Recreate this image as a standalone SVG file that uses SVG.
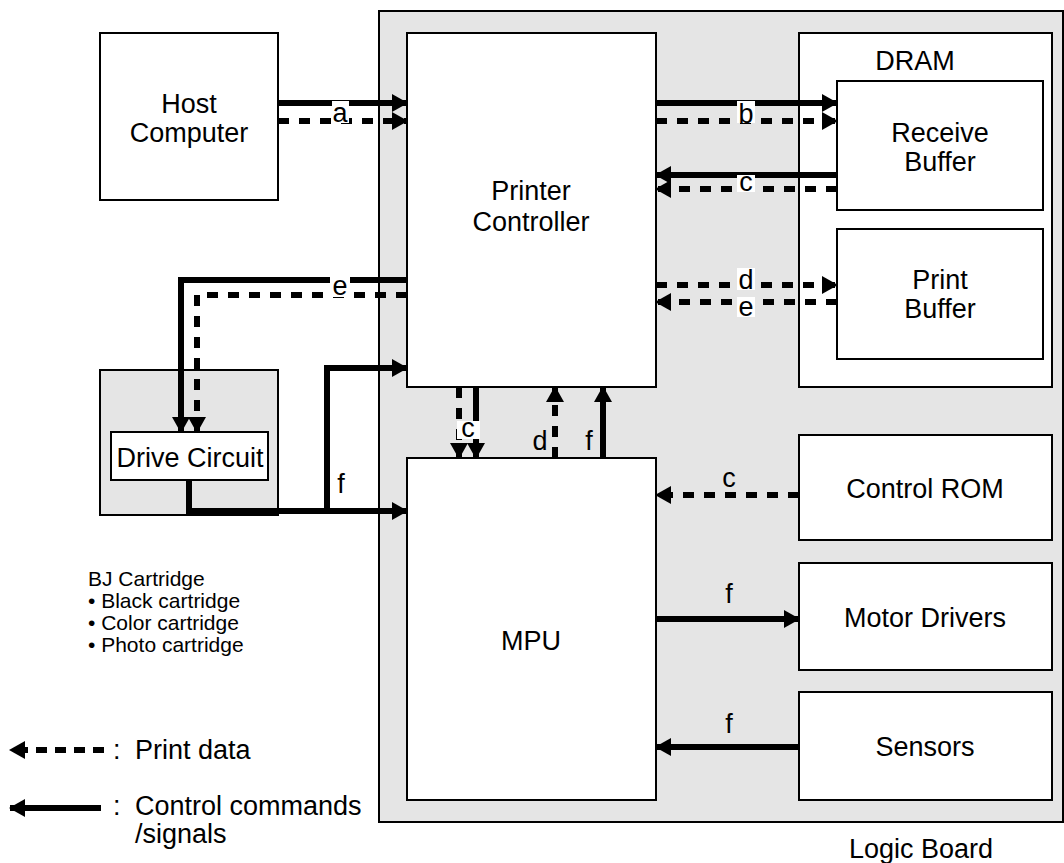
<svg xmlns="http://www.w3.org/2000/svg" width="1064" height="863" viewBox="0 0 1064 863">
<style>
text{font-family:"Liberation Sans",Arial,sans-serif;fill:#000}
.t{font-size:27px;text-anchor:middle}
.s{font-size:21px}
.box{fill:#fff;stroke:#000;stroke-width:2}
.grey{fill:#e5e5e5;stroke:#000;stroke-width:2}
.sol{fill:none;stroke:#000;stroke-width:6}
.dash{fill:none;stroke:#000;stroke-width:6;stroke-dasharray:11 10}
.lbl{font-size:27px;text-anchor:middle}
.bg{fill:#fff}
</style>
<defs>
<marker id="ah" markerUnits="userSpaceOnUse" markerWidth="16" markerHeight="18" refX="15" refY="9" orient="auto">
<path d="M0,0 L16,9 L0,18 Z" fill="#000"/>
</marker>
</defs>
<rect width="1064" height="863" fill="#fff"/>
<g id="logic-board">
<rect class="grey" x="379" y="11" width="684" height="811"/>
<text class="t" x="921" y="858">Logic Board</text>
</g>
<g id="host">
<rect class="box" x="100" y="33" width="178" height="167"/>
<text class="t" x="189" y="113">Host</text>
<text class="t" x="189" y="142">Computer</text>
</g>
<g id="printer-controller">
<rect class="box" x="407" y="33" width="249" height="354"/>
<text class="t" x="531" y="200">Printer</text>
<text class="t" x="531" y="231">Controller</text>
</g>
<g id="dram">
<rect class="box" x="799" y="33" width="253" height="354"/>
<text class="t" x="915" y="70">DRAM</text>
</g>
<g id="receive-buffer">
<rect class="box" x="837" y="81" width="206" height="129"/>
<text class="t" x="940" y="142">Receive</text>
<text class="t" x="940" y="171">Buffer</text>
</g>
<g id="print-buffer">
<rect class="box" x="837" y="229" width="206" height="130"/>
<text class="t" x="940" y="289">Print</text>
<text class="t" x="940" y="318">Buffer</text>
</g>
<g id="mpu">
<rect class="box" x="407" y="458" width="249" height="342"/>
<text class="t" x="531" y="650">MPU</text>
</g>
<g id="control-rom">
<rect class="box" x="799" y="435" width="253" height="105"/>
<text class="t" x="925" y="498">Control ROM</text>
</g>
<g id="motor-drivers">
<rect class="box" x="799" y="563" width="253" height="107"/>
<text class="t" x="925" y="627">Motor Drivers</text>
</g>
<g id="sensors">
<rect class="box" x="799" y="692" width="253" height="108"/>
<text class="t" x="925" y="756">Sensors</text>
</g>
<g id="bj-cartridge">
<rect class="grey" x="100" y="370" width="178" height="145"/>
<text class="s" x="88" y="586">BJ Cartridge</text>
<text class="s" x="88" y="608">• Black cartridge</text>
<text class="s" x="88" y="630">• Color cartridge</text>
<text class="s" x="88" y="652">• Photo cartridge</text>
</g>
<g id="drive-circuit">
<rect class="box" x="111" y="432" width="157" height="48"/>
<text class="t" x="190" y="467">Drive Circuit</text>
</g>
<g id="connectors">
<!-- a -->
<path class="sol" d="M278,103 H407" marker-end="url(#ah)"/>
<path class="dash" d="M278,121 H407" marker-end="url(#ah)"/>
<rect class="bg" x="332" y="101" width="17" height="22"/>
<text class="lbl" x="340" y="122">a</text>
<!-- b -->
<path class="sol" d="M656,103 H837" marker-end="url(#ah)"/>
<path class="dash" d="M656,121 H837" marker-end="url(#ah)"/>
<rect class="bg" x="737" y="101" width="18" height="22"/>
<text class="lbl" x="746" y="123">b</text>
<!-- c from receive buffer -->
<path class="sol" d="M837,175 H656" marker-end="url(#ah)"/>
<path class="dash" d="M837,189 H656" marker-end="url(#ah)"/>
<rect class="bg" x="737" y="175" width="18" height="17"/>
<text class="lbl" x="746" y="191">c</text>
<!-- d / e print buffer -->
<path class="dash" d="M656,285 H837" marker-end="url(#ah)"/>
<path class="dash" d="M837,302 H656" marker-end="url(#ah)"/>
<rect class="bg" x="737" y="268" width="18" height="22"/>
<text class="lbl" x="746" y="289">d</text>
<rect class="bg" x="737" y="297" width="18" height="20"/>
<text class="lbl" x="746" y="316">e</text>
<!-- e to drive circuit -->
<path class="sol" d="M407,280 H181 V432" marker-end="url(#ah)"/>
<path class="dash" d="M407,295 H197 V432" marker-end="url(#ah)"/>
<rect class="bg" x="330" y="276" width="20" height="21"/>
<text class="lbl" x="340" y="295">e</text>
<!-- f drive circuit -->
<path class="sol" d="M189,480 V511 H407" marker-end="url(#ah)"/>
<path class="sol" d="M327,511 V368 H407" marker-end="url(#ah)"/>
<text class="lbl" x="341" y="493">f</text>
<!-- vertical between controller and MPU -->
<path class="dash" d="M459,387 V458" marker-end="url(#ah)"/>
<path class="sol" d="M476,387 V458" marker-end="url(#ah)"/>
<rect class="bg" x="457" y="421" width="23" height="18"/>
<text class="lbl" x="468" y="437">c</text>
<path class="dash" d="M555,458 V387" marker-end="url(#ah)"/>
<text class="lbl" x="540" y="450">d</text>
<path class="sol" d="M603,458 V387" marker-end="url(#ah)"/>
<text class="lbl" x="589" y="450">f</text>
<!-- control ROM -->
<path class="dash" d="M799,495 H656" marker-end="url(#ah)"/>
<text class="lbl" x="729" y="487">c</text>
<!-- motor drivers -->
<path class="sol" d="M656,619 H799" marker-end="url(#ah)"/>
<text class="lbl" x="729" y="603">f</text>
<!-- sensors -->
<path class="sol" d="M799,747 H656" marker-end="url(#ah)"/>
<text class="lbl" x="729" y="733">f</text>
</g>
<g id="legend">
<path class="dash" d="M104,750 H10" marker-end="url(#ah)" style="stroke-dasharray:11 8"/>
<text class="t" x="113" y="759" style="text-anchor:start">:</text>
<text class="t" x="135" y="759" style="text-anchor:start">Print data</text>
<path class="sol" d="M101,808 H10" marker-end="url(#ah)"/>
<text class="t" x="113" y="815" style="text-anchor:start">:</text>
<text class="t" x="135" y="815" style="text-anchor:start">Control commands</text>
<text class="t" x="135" y="843" style="text-anchor:start">/signals</text>
</g>
</svg>
